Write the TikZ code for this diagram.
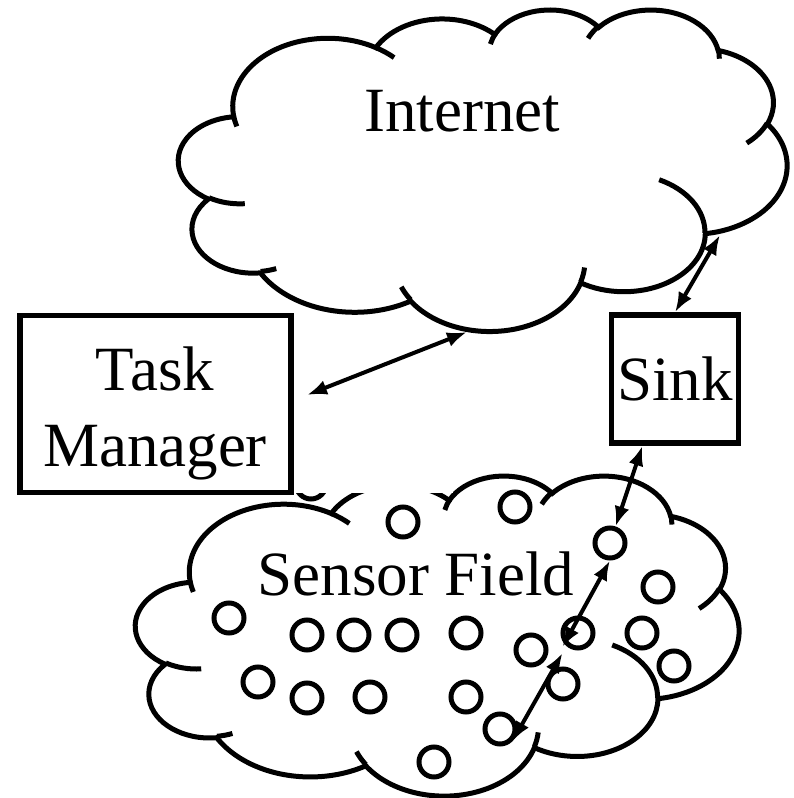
\documentclass[tikz,border=0pt]{standalone}
\usepackage{fontspec}
\setmainfont{Liberation Serif}
\usetikzlibrary{arrows.meta}

% arc given by visual start angle and sweep on an ellipse
\tikzset{
  vis/.style n args={4}{x radius=#1, y radius=#2,
    start angle={atan2(#1*sin(#3),#2*cos(#3))},
    delta angle={Mod(atan2(#1*sin(#3+#4),#2*cos(#3+#4))-atan2(#1*sin(#3),#2*cos(#3)),360)}},
  puff/.style={line width=5pt},
  box/.style={draw, line width=5.5pt, fill=white, inner sep=0pt},
  mote/.style={circle, draw, line width=5pt, minimum size=30pt, inner sep=0pt},
  link/.style={{Latex[length=20pt,width=15pt]}-{Latex[length=20pt,width=15pt]}, line width=4pt},
  lbl/.style={font=\fontsize{63}{76}\selectfont, inner sep=0pt}
}

% cloud in a 432 x 432 frame: #1,#2 corner, #3,#4 scale
\newcommand{\drawcloud}[4]{%
\begin{scope}[shift={(#1,#2)}, x=#3pt, y=-#4pt]
  \draw[puff, fill=white] (39.00,143.70)
    arc[vis={67.53}{91.90}{-190.4875}{123.7805}]
    arc[vis={53.33}{72.67}{-144.1024}{89.9452}]
    arc[vis={43.65}{59.45}{-145.8079}{99.7230}]
    arc[vis={48.57}{65.95}{-130.9861}{117.2417}]
    arc[vis={53.33}{72.73}{-78.7089}{109.0269}]
    arc[vis={67.75}{92.20}{-46.2673}{130.2690}]
    arc[vis={57.85}{78.67}{0.6250}{114.0333}]
    arc[vis={67.52}{92.15}{22.4516}{115.1726}]
    arc[vis={77.20}{105.43}{66.2426}{75.7110}]
    arc[vis={43.60}{59.18}{-274.9421}{146.7356}]
    arc[vis={43.45}{59.45}{-246.8285}{152.5189}] -- cycle;
  \draw[puff]
    (46.93,261.77) arc[vis={43.45}{59.45}{86.7420}{26.4295}]
    (69.28,348.99) arc[vis={43.60}{59.18}{73.6105}{11.4475}]
    (164.78,390.90) arc[vis={67.52}{92.15}{137.6242}{14.0811}]
    (288.27,347.51) arc[vis={67.52}{92.15}{6.4533}{15.9984}]
    (341.29,229.54) arc[vis={57.85}{78.67}{-70.2924}{70.9174}]
    (417.98,153.54) arc[vis={53.33}{72.73}{30.3180}{27.7515}]
    (383.24,54.26) arc[vis={48.57}{65.95}{-13.7443}{14.8589}]
    (290.78,39.52) arc[vis={48.57}{65.95}{-149.1815}{18.1954}]
    (221.41,47.20) arc[vis={43.65}{59.45}{-163.4943}{17.6864}]
    (140.00,51.92) arc[vis={67.53}{91.90}{-66.7070}{12.3194}]
    (41.27,157.89) arc[vis={67.53}{91.90}{157.6544}{11.8582}];
\end{scope}}

\begin{document}
\begin{tikzpicture}[x=1pt, y=-1pt]
\useasboundingbox (0,0) rectangle (794,798);

% the two clouds
\drawcloud{178.7}{8.95}{1.4078}{0.7440}
\drawcloud{135.7}{475}{1.3962}{0.7406}

% sensors
\foreach \x/\y [count=\i] in {403/522, 515/507, 610/543, 658/587, 229/618,
    307/635, 354/635, 402/635, 466/633, 531/650, 578/633, 642/633, 674/666,
    258/682, 307/698, 370/697, 466/697, 563/684, 500/729, 434/762, 311/484}
  \node[mote] (m\i) at (\x,\y) {};
\fill[white] (293,440) rectangle (453,493);

% boxes
\node[box, minimum width=271pt, minimum height=177pt] (tm) at (155.5,404) {};
\node[lbl, align=center, anchor=north] (tmtext) at (155,347) {Task\\Manager};
\node[box, lbl, minimum width=127pt, minimum height=128pt] (sink) at (675,379) {Sink};

\node[lbl, anchor=base] (nettext) at (462,131) {Internet};
\node[lbl, anchor=base] (fieldtext) at (416,595) {Sensor Field};

% links
\coordinate (tmport) at (307,395);
\coordinate (netlow) at (467,332);
\coordinate (netright) at (720,235);
\coordinate (relay) at (562.5,650);
\draw[link] (tmport) -- (netlow);
\draw[link] (sink.north) -- (netright);
\draw[link] (sink.-116) -- (m3);
\draw[link] (m3.south) -- ([yshift=3pt]relay);
\draw[link] ([yshift=-3pt]relay) -- (m19.-45);
\end{tikzpicture}
\end{document}
